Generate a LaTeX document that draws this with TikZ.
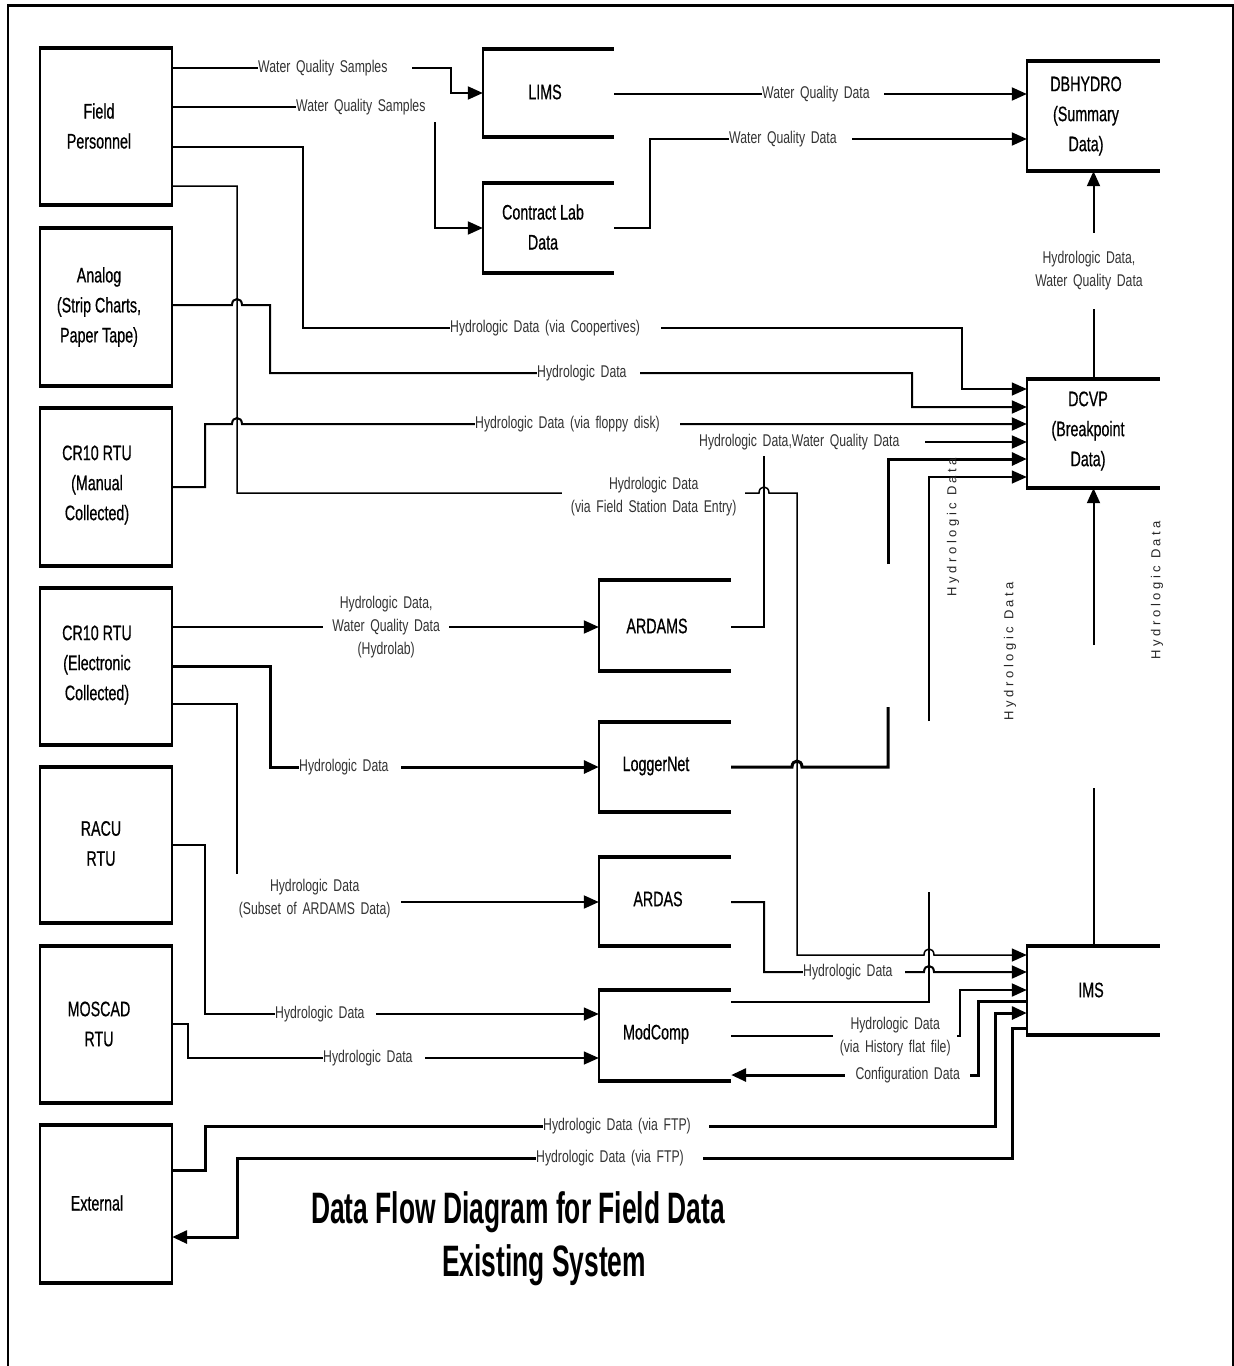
\documentclass[tikz,border=0pt]{standalone}
\usepackage{fontspec}
\setmainfont{Liberation Sans}
\newfontfamily\boxfam{Liberation Sans}[FakeStretch=0.68,FakeBold=0.6]
\newfontfamily\lblfam{Liberation Sans}[FakeStretch=0.72]
\newfontfamily\titfam{Liberation Sans}[FakeStretch=0.6]
\newfontfamily\rotfam{Liberation Sans}[LetterSpace=27]
\usetikzlibrary{arrows.meta,calc}

\newcommand\dfdfull[1]{%
  \draw[line width=2pt] (#1.north west) -- (#1.south west) (#1.north east) -- (#1.south east);
  \draw[line width=4pt] ([xshift=-1pt]#1.north west) -- ([xshift=1pt]#1.north east)
                        ([xshift=-1pt]#1.south west) -- ([xshift=1pt]#1.south east);}
\newcommand\dfdopen[1]{%
  \draw[line width=2pt] (#1.north west) -- (#1.south west);
  \draw[line width=4pt] ([xshift=-1pt]#1.north west) -- (#1.north east)
                        ([xshift=-1pt]#1.south west) -- (#1.south east);}

\begin{document}
\begin{tikzpicture}[x=1pt,y=-1pt,
  lbox/.style={draw=none, minimum width=132pt, inner sep=0pt},
  obox/.style={draw=none, inner sep=0pt},
  btxt/.style={font={\boxfam\fontsize{21}{30}\selectfont}, align=center, inner sep=0pt},
  lbl/.style={font={\lblfam\fontsize{17}{23}\selectfont}, text=black!80, fill=white,
              inner xsep=0pt, inner ysep=1pt, anchor=west, align=left},
  lblc/.style={lbl, align=center},
  rot/.style={font={\rotfam\fontsize{13}{15}\selectfont}, text=black!85, rotate=90, inner sep=0pt},
  tit/.style={font={\titfam\bfseries\fontsize{44}{53}\selectfont}, inner sep=0pt},
  cn/.style={line width=2pt},
  cnt/.style={line width=1.5pt},
  cnk/.style={line width=3pt},
  arr/.style={-{Triangle[length=15pt,width=13pt]}}
]
\fill[white] (0,0) rectangle (1234,1366);
\useasboundingbox (0,0) rectangle (1234,1366);

% outer frame
\draw[line width=3pt] (7,5) -- (1233,5);
\draw[line width=2pt] (8,4) -- (8,1366);
\draw[line width=2pt] (1232.5,4) -- (1232.5,1366);

% left (external entity) boxes
\node[lbox, minimum height=157pt] (fp) at (106,126.5) {};
\node[lbox, minimum height=158pt] (an) at (106,307) {};
\node[lbox, minimum height=158pt] (cm) at (106,487) {};
\node[lbox, minimum height=157pt] (ce) at (106,666.5) {};
\node[lbox, minimum height=156pt] (ra) at (106,845) {};
\node[lbox, minimum height=157pt] (mo) at (106,1024.5) {};
\node[lbox, minimum height=158pt] (ex) at (106,1204) {};
\dfdfull{fp}\dfdfull{an}\dfdfull{cm}\dfdfull{ce}\dfdfull{ra}\dfdfull{mo}\dfdfull{ex}

% open (data store) boxes
\node[obox, minimum width=131pt, minimum height=88pt] (lims) at (548.5,93) {};
\node[obox, minimum width=131pt, minimum height=90pt] (clab) at (548.5,228) {};
\node[obox, minimum width=132pt, minimum height=91pt] (ardams) at (665,625.5) {};
\node[obox, minimum width=132pt, minimum height=90pt] (logger) at (665,767) {};
\node[obox, minimum width=132pt, minimum height=89pt] (ardas) at (665,901.5) {};
\node[obox, minimum width=132pt, minimum height=91pt] (modcomp) at (665,1035.5) {};
\node[obox, minimum width=133pt, minimum height=110pt] (dbhydro) at (1093.5,116) {};
\node[obox, minimum width=133pt, minimum height=109pt] (dcvp) at (1093.5,433.5) {};
\node[obox, minimum width=133pt, minimum height=89pt] (ims) at (1093.5,990.5) {};
\dfdopen{lims}\dfdopen{clab}\dfdopen{ardams}\dfdopen{logger}\dfdopen{ardas}\dfdopen{modcomp}
\dfdopen{dbhydro}\dfdopen{dcvp}\dfdopen{ims}

% box texts
\node[btxt] (fpt) at (99,126) {Field\\Personnel};
\node[btxt] (ant) at (99,307) {Analog\\(Strip Charts,\\Paper Tape)};
\node[btxt] (cmt) at (97,485) {CR10 RTU\\(Manual\\Collected)};
\node[btxt] (cet) at (97,665) {CR10 RTU\\(Electronic\\Collected)};
\node[btxt] (rat) at (101,843.5) {RACU\\RTU};
\node[btxt] (mot) at (99,1024) {MOSCAD\\RTU};
\node[btxt] (ext) at (97,1203) {External};
\node[btxt] (limst) at (545,92) {LIMS};
\node[btxt] (clabt) at (543,227) {Contract Lab\\Data};
\node[btxt] (ardamst) at (657,626) {ARDAMS};
\node[btxt] (loggert) at (656,766) {LoggerNet};
\node[btxt] (ardast) at (658,899) {ARDAS};
\node[btxt] (modcompt) at (656,1034) {ModComp};
\node[btxt] (dbhydrot) at (1086,116) {DBHYDRO\\(Summary\\Data)};
\node[btxt] (dcvpt) at (1088,431) {DCVP\\(Breakpoint\\Data)};
\node[btxt] (imst) at (1091,990) {IMS};

% gap coordinates
\coordinate (g1a) at (888,707); \coordinate (g1b) at (888,564);
\coordinate (g2a) at (929,892); \coordinate (g2b) at (929,721);
\coordinate (g3a) at (1093.5,788); \coordinate (g3b) at (1093.5,645);

% ---------- connectors ----------
% Field Personnel -> LIMS
\draw[cn,arr] (fp.east |- 0,68) -- (451,68) |- (lims.west |- 0,93);
% Field Personnel -> Contract Lab
\draw[cn,arr] (fp.east |- 0,107) -- (435,107) |- (clab.west |- 0,228);
% Field Personnel -> DCVP (via Coopertives)
\draw[cnt,arr] (fp.east |- 0,147) -- (303,147) |- (962,328) |- (dcvp.west |- 0,389);
% Field Personnel -> IMS (via Field Station Data Entry)
\draw[cnt,arr] (fp.east |- 0,186) -- (237,186) -- (237,493) -- (759,493)
   .. controls (759,485) and (769,485) .. (769,493) -- (797,493) -- (797,955) -- (924,955)
   .. controls (924,947) and (934,947) .. (934,955) -- (ims.west |- 0,955);
% Analog -> DCVP
\draw[cn,arr] (an.east |- 0,305) -- (232,305) .. controls (232,297) and (242,297) .. (242,305)
   -- (270,305) -- (270,373) -- (912,373) -- (912,407) -- (dcvp.west |- 0,407);
% CR10 Manual -> DCVP (floppy)
\draw[cn,arr] (cm.east |- 0,487) -- (205,487) -- (205,424) -- (232,424)
   .. controls (232,416) and (242,416) .. (242,424) -- (dcvp.west |- 0,424);
% ARDAMS -> DCVP
\draw[cn,arr] (ardams.east |- 0,627) -- (764,627) -- (764,442) -- (dcvp.west |- 0,442);
% LoggerNet -> DCVP
\draw[cnk] (logger.east |- 0,767) -- (792,767) .. controls (792,759) and (802,759) .. (802,767)
   -- (888,767) -- (g1a);
\draw[cnk,arr] (g1b) -- (888,459) -- (dcvp.west |- 0,459);
% ModComp -> DCVP
\draw[cnt] (modcomp.east |- 0,1002) -- (929,1002) -- (g2a);
\draw[cnt,arr] (g2b) -- (929,477) -- (dcvp.west |- 0,477);
% IMS -> DCVP
\draw[cn] (ims.north) -- (g3a);
\draw[cn,arr] (g3b) -- (dcvp.south);
% DCVP -> DBHYDRO
\draw[cn,arr] (dcvp.north) -- (dbhydro.south);
% LIMS -> DBHYDRO
\draw[cn,arr] (lims.east |- 0,94) -- (dbhydro.west |- 0,94);
% Contract Lab -> DBHYDRO
\draw[cn,arr] (clab.east |- 0,228) -- (650,228) -- (650,139) -- (dbhydro.west |- 0,139);
% CR10 Electronic -> ARDAMS
\draw[cn,arr] (ce.east |- 0,627) -- (ardams.west |- 0,627);
% CR10 Electronic -> LoggerNet
\draw[cnk,arr] (ce.east |- 0,666) -- (270,666) -- (270,767) -- (logger.west |- 0,767);
% CR10 Electronic -> ARDAS
\draw[cn,arr] (ce.east |- 0,704) -- (237,704) -- (237,902) -- (ardas.west |- 0,902);
% RACU -> ModComp
\draw[cnt,arr] (ra.east |- 0,845) -- (205,845) -- (205,1014) -- (modcomp.west |- 0,1014);
% MOSCAD -> ModComp
\draw[cnt,arr] (mo.east |- 0,1024) -- (188,1024) -- (188,1058) -- (modcomp.west |- 0,1058);
% ARDAS -> IMS
\draw[cn,arr] (ardas.east |- 0,902) -- (764,902) -- (764,972) -- (924,972)
   .. controls (924,964) and (934,964) .. (934,972) -- (ims.west |- 0,972);
% ModComp -> IMS (history flat file)
\draw[cn,arr] (modcomp.east |- 0,1036) -- (960,1036) -- (960,990) -- (ims.west |- 0,990);
% IMS -> ModComp (configuration)
\draw[cnk,arr] (ims.west |- 0,1001) -- (978,1001) -- (978,1075) -- (modcomp.east |- 0,1075);
% External -> IMS (FTP)
\draw[cnk,arr] (ex.east |- 0,1170) -- (205,1170) -- (205,1126) -- (995,1126) -- (995,1013)
   -- (ims.west |- 0,1013);
% IMS -> External (FTP)
\draw[cnk,arr] (ims.west |- 0,1028) -- (1012,1028) -- (1012,1158) -- (237,1158) -- (237,1237)
   -- (ex.east |- 0,1237);

% ---------- labels ----------
\node[lbl, text width=154pt] (l1) at (258,68) {Water Quality Samples};
\node[lbl, text width=142pt, minimum height=30pt] (l2) at (296,107) {Water Quality Samples};
\node[lbl, text width=211pt] (l3) at (450,328) {Hydrologic Data (via Coopertives)};
\node[lblc, text width=183pt] (l4) at (562,497) {Hydrologic Data\\(via Field Station Data Entry)};
\node[lbl, text width=103pt] (l5) at (537,373) {Hydrologic Data};
\node[lbl, text width=205pt] (l6) at (475,424) {Hydrologic Data (via floppy disk)};
\node[lbl, text width=226pt, minimum height=28pt] (l7) at (699,442) {Hydrologic Data,Water Quality Data};
\node[lbl, text width=102pt] (l10) at (803,972) {Hydrologic Data};
\node[lblc, text width=124pt] (l11) at (833,1037) {Hydrologic Data\\(via History flat file)};
\node[lblc, text width=125pt] (l12) at (845,1075) {Configuration Data};
\node[lbl, text width=166pt] (l13) at (543,1126) {Hydrologic Data (via FTP)};
\node[lbl, text width=167pt] (l14) at (536,1158) {Hydrologic Data (via FTP)};
\node[lbl, text width=122pt] (l15) at (762,94) {Water Quality Data};
\node[lbl, text width=123pt] (l16) at (729,139) {Water Quality Data};
\node[lblc, text width=130pt, minimum height=76pt, anchor=center] (l17) at (1089,271) {Hydrologic Data,\\Water Quality Data};
\node[lblc, text width=126pt] (l19) at (323,627) {Hydrologic Data,\\Water Quality Data\\(Hydrolab)};
\node[lbl, text width=102pt] (l20) at (299,767) {Hydrologic Data};
\node[lblc, text width=173pt, minimum height=48pt, anchor=north west] (l21) at (228,874) {Hydrologic Data\\(Subset of ARDAMS Data)};
\node[lbl, text width=101pt] (l22) at (275,1014) {Hydrologic Data};
\node[lbl, text width=102pt] (l23) at (323,1058) {Hydrologic Data};

% rotated labels
\node[rot] (r1) at (953,527) {Hydrologic Data};
\node[rot] (r2) at (1010,651) {Hydrologic Data};
\node[rot] (r3) at (1157,590) {Hydrologic Data};

% title
\node[tit] (t1) at (518,1212) {Data Flow Diagram for Field Data};
\node[tit] (t2) at (544,1265) {Existing System};
\end{tikzpicture}
\end{document}
